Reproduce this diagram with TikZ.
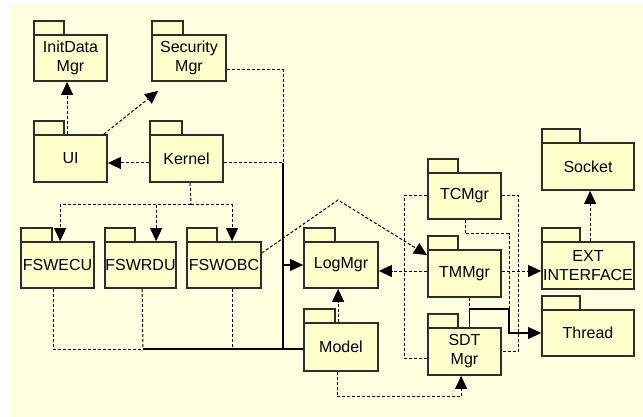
\documentclass[tikz,border=0pt]{standalone}
\usepackage{fontspec}
\setmainfont{Liberation Sans}
\usetikzlibrary{arrows.meta}
\definecolor{bgc}{RGB}{255,255,224}
\definecolor{boxc}{RGB}{255,255,204}
\definecolor{edgec}{RGB}{45,45,45}
\tikzset{
 pkg/.style={draw=edgec, fill=boxc, line width=1.8pt, inner sep=0pt, align=center, font=\fontsize{16}{19}\selectfont, text=black},
 tabbox/.style={draw=edgec, fill=boxc, line width=1.8pt},
 dep/.style={draw=black, line width=1pt, dash pattern=on 3pt off 2pt},
 link/.style={draw=black, line width=1.2pt},
 tip/.style={-{Triangle[length=13pt,width=12pt]}},
}
\newcommand\pkgnode[7]{%
  \draw[tabbox] (#2,#3) rectangle (#2+#6,#3-14);
  \node[pkg, minimum width={(#4-#2)*1pt}, minimum height={(#5-#3)*1pt}] (#1) at ({(#2+#4)/2},{(#3+#5)/2}) {#7};
}
\begin{document}
\begin{tikzpicture}[x=1pt,y=-1pt]
\useasboundingbox (0,0) rectangle (643,417);
\fill[bgc] (10,4) rectangle (643,417);
% packages
\pkgnode{idm}{34}{35}{107}{81}{30}{InitData\\Mgr}
\pkgnode{sec}{152}{35}{226}{81}{31}{Security\\Mgr}
\pkgnode{ui}{34}{135}{107}{182}{30}{UI}
\pkgnode{ker}{150}{135}{223}{182}{32}{Kernel}
\pkgnode{ecu}{21}{242}{94}{288}{31}{FSWECU}
\pkgnode{rdu}{105}{242}{176}{288}{30}{FSWRDU}
\pkgnode{obc}{187}{242}{261}{288}{30}{FSWOBC}
\pkgnode{log}{304}{242}{378}{288}{31}{LogMgr}
\pkgnode{mod}{304}{323}{378}{371}{31}{Model}
\pkgnode{tc}{428}{173}{501}{219}{30}{TCMgr}
\pkgnode{tm}{428}{250}{501}{297}{30}{TMMgr}
\pkgnode{sdt}{428}{328}{501}{375}{30}{SDT\\Mgr}
\pkgnode{sock}{542}{143}{634}{190}{38}{Socket}
\pkgnode{ext}{542}{242}{634}{289}{38}{EXT\\INTERFACE}
\pkgnode{thr}{542}{310}{634}{356}{38}{Thread}
% UI dependencies
\draw[dep,tip] ([xshift=34pt]ui.north west) -- ([xshift=34pt]idm.south west);
\draw[dep,tip] ([xshift=-4pt]ui.north east) -- ([xshift=7pt,yshift=-9pt]sec.south west);
\draw[dep,tip] ([yshift=-4.5pt]ker.west) -- ([yshift=-4.5pt]ui.east);
% Kernel to FSW packages
\coordinate (kj) at (191,205);
\draw[dep] ([xshift=41pt]ker.south west) -- (kj);
\draw[dep,tip] (kj) -| ([xshift=40pt]ecu.north west);
\draw[dep,tip] (kj) -| ([xshift=52pt]rdu.north west);
\draw[dep,tip] (kj) -| ([xshift=46pt]obc.north west);
% bus to LogMgr
\coordinate (jk) at (283,163);
\coordinate (jb) at (283,349);
\coordinate (rj) at (143,349);
\draw[dep] ([yshift=-12pt]sec.east) -| (jk);
\draw[dep] ([yshift=-4.5pt]ker.east) -- (jk);
\draw[link] (jk) -- (jb);
\draw[link,tip] (log.west -| jk) -- (log.west);
\draw[dep] ([xshift=33pt]ecu.south west) |- (rj);
\draw[dep] ([xshift=38pt]rdu.south west) -- (rj);
\draw[dep] ([xshift=46pt]obc.south west) -- ++(0,61);
\draw[link] (rj) -- ([yshift=-2pt]mod.west);
% FSWOBC to TMMgr
\coordinate (apex) at (338,200);
\draw[dep,tip] ([yshift=12pt]obc.east) -- (apex) -- ([yshift=-6pt]tm.north west);
% TMMgr to LogMgr and EXT INTERFACE
\coordinate (tmw) at ([yshift=2.5pt]tm.west);
\draw[dep,tip] (tmw) -- (tmw -| log.east);
\coordinate (tme) at ([yshift=2.5pt]tm.east);
\draw[dep,tip] (tme) -- (tme -| ext.west);
% Model
\draw[dep,tip] ([xshift=35pt]mod.north west) -- ([xshift=35pt]log.south west);
\draw[dep,tip] ([xshift=34pt]mod.south west) -- ++(0,25) -| ([xshift=34pt]sdt.south west);
% EXT to Socket
\draw[dep,tip] ([xshift=49pt]ext.north west) -- ([xshift=49pt]sock.south west);
% TCMgr loops
\draw[dep] (tc.west) -- ++(-23,0) |- ([yshift=-6.5pt]sdt.west);
\draw[dep] (tc.east) -- ++(17,0) |- (sdt.east);
% to Thread
\coordinate (tj) at (509,309);
\draw[dep] ([xshift=38pt]tc.south west) -- ++(0,14) -| (tj);
\coordinate (tmb) at ([xshift=42pt]tm.south west);
\draw[dep] (tmb) -- (tmb |- tj);
\draw[link,tip] ([xshift=42pt]sdt.north west) |- (tj) |- (thr.west);
\end{tikzpicture}
\end{document}
